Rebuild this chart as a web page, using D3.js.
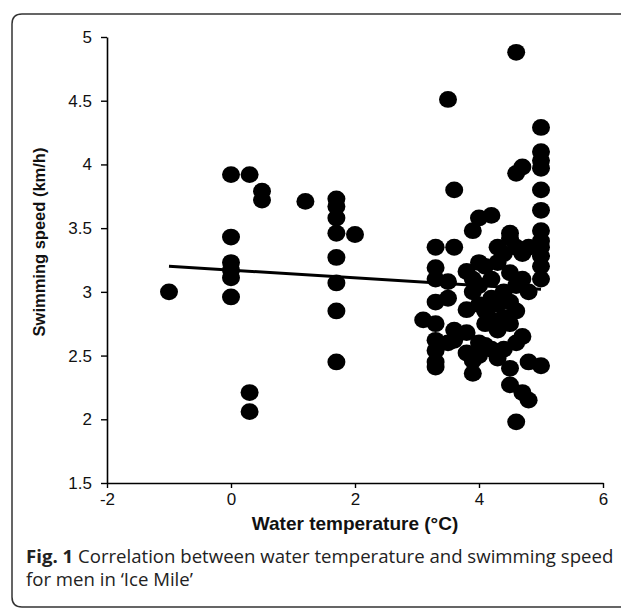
<!DOCTYPE html>
<html>
<head>
<meta charset="utf-8">
<script src="https://cdn.jsdelivr.net/npm/d3@7/dist/d3.min.js"></script>
<style>
  html, body { margin: 0; padding: 0; background: #fff; }
  svg { display: block; }
</style>
</head>
<body>
<svg id="chart" width="621" height="611"></svg>
<script>
// ---- data ----
const xTicks = [-2, 0, 2, 4, 6];
const yTicks = [1.5, 2, 2.5, 3, 3.5, 4, 4.5, 5];
const xLabel = "Water temperature (°C)";
const yLabel = "Swimming speed (km/h)";
const captionBold = "Fig. 1";
const captionLine1 = " Correlation between water temperature and swimming speed";
const captionLine2 = "for men in ‘Ice Mile’";

// water temperature (°C) of each swim
const temperature = [
  -1,
  0, 0, 0, 0, 0, 0,
  0.3, 0.3, 0.3,
  0.5, 0.5,
  1.2,
  1.7, 1.7, 1.7, 1.7, 1.7, 1.7, 1.7, 1.7,
  2.0,
  3.1,
  3.3, 3.3, 3.3, 3.3, 3.3, 3.3, 3.3, 3.3, 3.3,
  3.5, 3.5, 3.5, 3.5,
  3.6, 3.6, 3.6, 3.6,
  3.8, 3.8, 3.8, 3.8,
  3.9, 3.9, 3.9, 3.9, 3.9,
  4.0, 4.0, 4.0, 4.0, 4.0, 4.0,
  4.1, 4.1, 4.1, 4.1,
  4.2, 4.2, 4.2, 4.2, 4.2,
  4.3, 4.3, 4.3, 4.3, 4.3,
  4.4, 4.4, 4.4, 4.4,
  4.5, 4.5, 4.5, 4.5, 4.5, 4.5, 4.5,
  4.6, 4.6, 4.6, 4.6, 4.6, 4.6, 4.6,
  4.7, 4.7, 4.7, 4.7, 4.7,
  4.8, 4.8, 4.8, 4.8,
  5.0, 5.0, 5.0, 5.0, 5.0, 5.0, 5.0, 5.0, 5.0, 5.0, 5.0, 5.0, 5.0
];
// swimming speed (km/h) of each swim
const speed = [
  3.00,
  3.92, 3.43, 3.23, 3.17, 3.11, 2.96,
  3.92, 2.21, 2.06,
  3.79, 3.72,
  3.71,
  3.73, 3.67, 3.58, 3.46, 3.27, 3.07, 2.85, 2.45,
  3.45,
  2.78,
  3.35, 3.19, 3.10, 2.92, 2.75, 2.62, 2.54, 2.45, 2.41,
  4.51, 3.08, 2.95, 2.60,
  3.80, 3.35, 2.70, 2.62,
  3.16, 2.86, 2.68, 2.52,
  3.48, 3.10, 3.00, 2.46, 2.36,
  3.58, 3.23, 3.05, 2.90, 2.60, 2.50,
  3.20, 2.85, 2.75, 2.58,
  3.60, 3.10, 2.95, 2.78, 2.55,
  3.35, 3.23, 2.90, 2.70, 2.48,
  3.30, 3.00, 2.80, 2.55,
  3.46, 3.42, 3.15, 2.92, 2.75, 2.40, 2.27,
  4.88, 3.93, 3.35, 3.05, 2.85, 2.60, 1.98,
  3.98, 3.30, 3.10, 2.65, 2.21,
  3.35, 3.00, 2.45, 2.15,
  4.29, 4.10, 4.03, 3.97, 3.80, 3.64, 3.48, 3.40, 3.35, 3.28, 3.20, 3.10, 2.42
];
// fitted trend line end points
const trendX = [-1, 5];
const trendY = [3.20, 3.02];

// ---- drawing ----
const svg = d3.select("#chart");

// rounded frame around figure (open to the right)
const fx = 12, fy = 14, fb = 607, fr = 10;
svg.append("path")
  .attr("d", `M 640 ${fy} L ${fx + fr} ${fy} Q ${fx} ${fy} ${fx} ${fy + fr} L ${fx} ${fb - fr} Q ${fx} ${fb} ${fx + fr} ${fb} L 640 ${fb}`)
  .attr("fill", "none")
  .attr("stroke", "#333")
  .attr("stroke-width", 1.5);

const x = d3.scaleLinear().domain([-2, 6]).range([107, 603]);
const y = d3.scaleLinear().domain([1.5, 5]).range([483, 37]);

const g = svg.append("g");

// points
g.append("g").selectAll("ellipse")
  .data(temperature.map((t, i) => [t, speed[i]]))
  .join("ellipse")
  .attr("cx", d => x(d[0]))
  .attr("cy", d => y(d[1]))
  .attr("rx", 9)
  .attr("ry", 8.4)
  .attr("fill", "#000");

// trend line
g.append("line")
  .attr("x1", x(trendX[0])).attr("y1", y(trendY[0]))
  .attr("x2", x(trendX[1])).attr("y2", y(trendY[1]))
  .attr("stroke", "#000")
  .attr("stroke-width", 3);

// axes
const xAxis = d3.axisBottom(x).tickValues(xTicks).tickSize(5).tickSizeOuter(0).tickPadding(5)
  .tickFormat(d => d < 0 ? "-" + Math.abs(d) : String(d));
const yAxis = d3.axisLeft(y).tickValues(yTicks).tickSize(6).tickSizeOuter(0).tickPadding(9)
  .tickFormat(d => String(d));

const gx = g.append("g").attr("transform", `translate(0,${y(1.5)})`).call(xAxis);
const gy = g.append("g").attr("transform", `translate(${x(-2)},0)`).call(yAxis);

[gx, gy].forEach(a => {
  a.select(".domain").attr("stroke", "#000").attr("stroke-width", 1.6);
  a.selectAll(".tick line").attr("stroke", "#000").attr("stroke-width", 1.4);
  a.selectAll(".tick text")
    .attr("fill", "#111")
    .style("font-family", "'Liberation Sans', Arial, sans-serif")
    .style("font-size", "17px");
});

// axis titles
svg.append("text")
  .attr("x", 355).attr("y", 530)
  .attr("text-anchor", "middle")
  .style("font-family", "'Liberation Sans', Arial, sans-serif")
  .style("font-size", "19px")
  .style("font-weight", "bold")
  .attr("fill", "#111")
  .text(xLabel);

svg.append("text")
  .attr("transform", "translate(45,242) rotate(-90)")
  .attr("text-anchor", "middle")
  .style("font-family", "'Liberation Sans', Arial, sans-serif")
  .style("font-size", "16.5px")
  .style("font-weight", "bold")
  .attr("fill", "#111")
  .text(yLabel);

// caption
const cap = svg.append("text")
  .attr("x", 26).attr("y", 563)
  .style("font-family", "'Open Sans', 'Noto Sans', sans-serif")
  .style("font-size", "18.6px")
  .attr("fill", "#222");
cap.append("tspan").style("font-weight", "bold").text(captionBold);
cap.append("tspan").text(captionLine1);

svg.append("text")
  .attr("x", 26).attr("y", 586)
  .style("font-family", "'Open Sans', 'Noto Sans', sans-serif")
  .style("font-size", "18.6px")
  .attr("fill", "#222")
  .text(captionLine2);
</script>
</body>
</html>
